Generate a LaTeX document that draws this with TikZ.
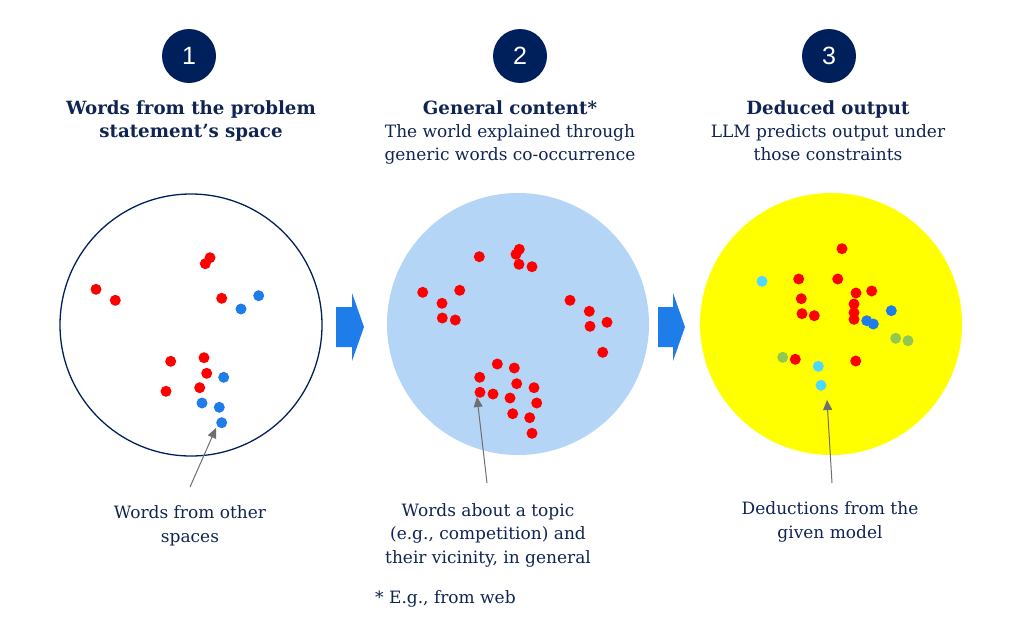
\documentclass[tikz,border=0pt]{standalone}
\usepackage{fontspec}
\setmainfont{DejaVu Serif}
\newfontfamily\numfont{Liberation Sans}
\usetikzlibrary{arrows.meta}
\definecolor{navy}{RGB}{0,32,91}
\definecolor{txt}{RGB}{16,36,82}
\definecolor{dred}{RGB}{255,0,0}
\definecolor{dblue}{RGB}{30,125,232}
\definecolor{dcyan}{RGB}{77,217,255}
\definecolor{dgreen}{RGB}{146,200,80}
\definecolor{lblue}{RGB}{180,213,246}
\definecolor{yel}{RGB}{255,255,0}
\definecolor{arrblue}{RGB}{30,125,232}
\definecolor{ptr}{RGB}{110,110,115}
\newcommand{\bt}[1]{{\fontsize{18.2}{23}\selectfont\bfseries #1}}
\tikzset{
  bigc/.style={circle, minimum size=262pt, inner sep=0pt},
  numc/.style={circle, fill=navy, minimum size=54pt, inner sep=0pt, text=white, font=\numfont\fontsize{25}{25}\selectfont},
  ttl/.style={anchor=base, align=center, inner sep=0pt, text=txt, font=\fontsize{17}{23}\selectfont},
  lbl/.style={anchor=base, align=center, inner sep=0pt, text=txt, font=\fontsize{17}{23.5}\selectfont},
  ptrarrow/.style={draw=ptr, line width=1pt, -{Triangle[length=10pt,width=9pt]}},
  blockarrow/.style={fill=arrblue},
}
\newcommand{\dt}[3]{\fill[#1] (#2,#3) circle (5.5pt);}
\begin{document}
\begin{tikzpicture}[x=1pt,y=-1pt]
\useasboundingbox (0,0) rectangle (1024,616);
% numbers
\node[numc] (n1) at (189,56) {1};
\node[numc] (n2) at (520,56) {2};
\node[numc] (n3) at (829,56) {3};
% titles (anchor base = last line's baseline)
\node[ttl] (t1) at (191,137) {\bt{Words from the problem}\\\bt{statement’s space}};
\node[ttl] (t2) at (510,160) {\bt{General content*}\\The world explained through\\generic words co-occurrence};
\node[ttl] (t3) at (828,160) {\bt{Deduced output}\\LLM predicts output under\\those constraints};
% big circles
\node[bigc, draw=navy, line width=1.3pt] (c1) at (191,325) {};
\node[bigc, fill=lblue] (c2) at (518,324) {};
\node[bigc, fill=yel] (c3) at (831,324) {};
% block arrows
\fill[blockarrow] (336,307) -- (352,307) -- (352,293) -- (364,327) -- (352,361) -- (352,347) -- (336,347) -- cycle;
\fill[blockarrow] (658,307) -- (673,307) -- (673,293) -- (685,327) -- (673,361) -- (673,347) -- (658,347) -- cycle;
% dots circle 1
\foreach \x/\y in {210/257.7, 205.3/263.7, 96/289.3, 115.3/300.3, 221.7/298.3, 170.7/361.3, 204/357.7, 206.7/373.3, 199.7/387.7, 166/391.3}{\dt{dred}{\x}{\y}}
\foreach \x/\y in {258.7/295.7, 241/309, 223.7/377.3, 202/403, 219.3/407.3, 221.7/422.7}{\dt{dblue}{\x}{\y}}
% dots circle 2
\foreach \x/\y in {479.3/256.7, 519.3/249.3, 516/254.3, 519/264.3, 532/266.7, 422.7/292.3, 459.7/290.3, 442/303.3, 442.3/318, 455.3/320, 570/300.3, 589.3/311.3, 607/322.3, 590/326.3, 602.7/352.3, 497.3/364, 514.3/368, 479.7/377.3, 516.7/383.7, 534/387.7, 480/392.3, 493/394, 510/398, 536.7/403, 512.7/413.7, 529.7/417.7, 532/433.3}{\dt{dred}{\x}{\y}}
% dots circle 3
\foreach \x/\y in {842/248.7, 798.7/279, 837.7/279, 856/293, 871.7/291, 801.3/298.7, 854/304, 802/313.7, 814.3/315.7, 854/312.7, 854/319.3, 795.3/359.3, 855.7/361}{\dt{dred}{\x}{\y}}
\foreach \x/\y in {891.3/310.7, 866.7/320.7, 873.3/324}{\dt{dblue}{\x}{\y}}
\foreach \x/\y in {762/281.3, 818.3/366.3, 821/385.3}{\dt{dcyan}{\x}{\y}}
\foreach \x/\y in {895.7/338.3, 908/340.7, 782.7/357.3}{\dt{dgreen}{\x}{\y}}
% bottom labels
\node[lbl] (l1) at (190,542) {Words from other\\spaces};
\node[lbl] (l2) at (488,563) {Words about a topic\\(e.g., competition) and\\their vicinity, in general};
\node[lbl] (l3) at (830,538) {Deductions from the\\given model};
\node[lbl, anchor=base west] (fn) at (375,603) {* E.g., from web};
% pointers
\coordinate (s1) at (190,487); \coordinate (e1) at (216,428);
\coordinate (s2) at (487,483); \coordinate (e2) at (477,397);
\coordinate (s3) at (832,483); \coordinate (e3) at (827,400);
\draw[ptrarrow] (s1) -- (e1);
\draw[ptrarrow] (s2) -- (e2);
\draw[ptrarrow] (s3) -- (e3);
\end{tikzpicture}
\end{document}
